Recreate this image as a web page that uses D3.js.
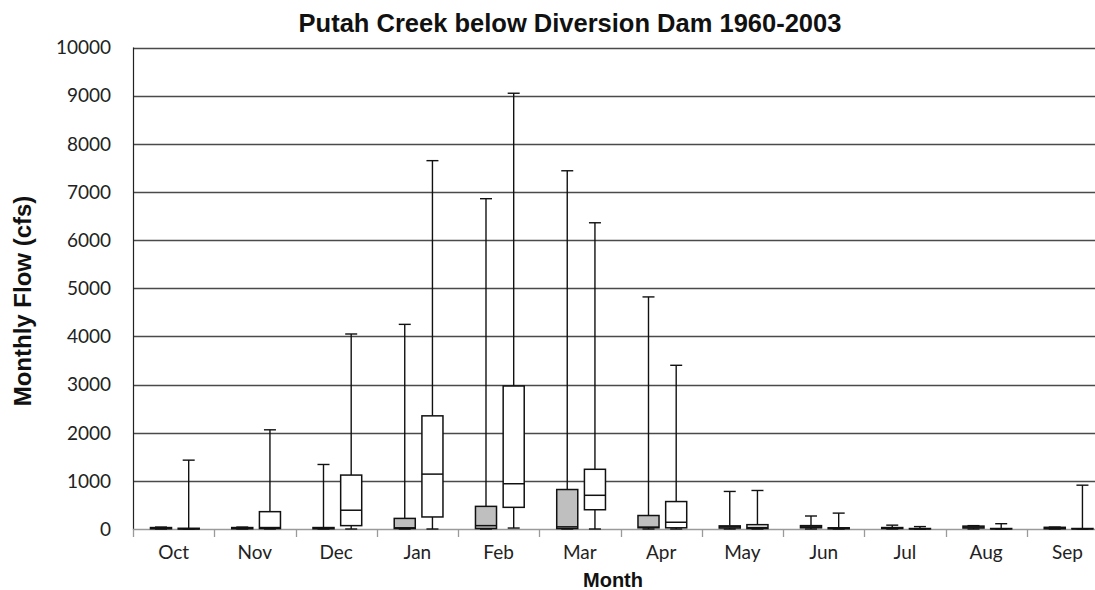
<!DOCTYPE html>
<html lang="en">
<head>
  <meta charset="utf-8">
  <title>Putah Creek below Diversion Dam 1960-2003</title>
  <script src="https://d3js.org/d3.v7.min.js"></script>
  <style>
    body { margin: 0; background: #fff; }
    svg { display: block; }
    .tick-label { font-family: 'Lato', 'Open Sans', sans-serif; font-size: 19px; fill: #222; }
    .title { font-family: 'Liberation Sans', Arial, sans-serif; font-weight: bold; fill: #111; }
  </style>
</head>
<body>
<div id="chart"></div>
<script>
  // months and y ticks
  var months = ["Oct", "Nov", "Dec", "Jan", "Feb", "Mar", "Apr", "May", "Jun", "Jul", "Aug", "Sep"];
  var yTicks = [0, 1000, 2000, 3000, 4000, 5000, 6000, 7000, 8000, 9000, 10000];

  // gray boxes (first series)
  var grayMin = [0, 0, 0, 0, 0, 0, 0, 0, 0, 0, 0, 0];
  var grayQ1  = [5, 5, 5, 10, 10, 10, 25, 20, 25, 10, 20, 5];
  var grayMed = [15, 15, 15, 25, 70, 45, 40, 45, 45, 20, 40, 15];
  var grayQ3  = [30, 30, 30, 220, 470, 820, 280, 65, 70, 30, 60, 35];
  var grayMax = [40, 40, 1340, 4250, 6860, 7440, 4820, 780, 270, 80, 70, 40];

  // white boxes (second series)
  var whiteMin = [0, 0, 0, 0, 20, 0, 0, 0, 0, 0, 0, 0];
  var whiteQ1  = [0, 10, 70, 250, 450, 400, 25, 10, 5, 2, 2, 2];
  var whiteMed = [5, 30, 390, 1140, 940, 700, 140, 30, 15, 5, 5, 5];
  var whiteQ3  = [15, 360, 1120, 2350, 2970, 1240, 570, 90, 25, 10, 10, 10];
  var whiteMax = [1430, 2060, 4050, 7650, 9050, 6360, 3400, 800, 330, 50, 110, 910];

  var W = 1095, H = 590;
  var plotLeft = 133, plotRight = 1108, plotTop = 47.5, plotBottom = 529;

  var svg = d3.select("#chart").append("svg")
      .attr("width", W)
      .attr("height", H);

  var x = d3.scaleBand().domain(months).range([plotLeft, plotRight]).padding(0);
  var bw = x.bandwidth();
  var inner = d3.scaleBand().domain(["gray", "white"])
      .range([0.215 * bw, 0.815 * bw]).paddingInner(0.24).paddingOuter(0);
  var y = d3.scaleLinear().domain([0, 10000]).range([plotBottom, plotTop]);

  // gridlines
  svg.append("g").selectAll("line")
      .data(yTicks.filter(d => d > 0))
      .enter().append("line")
      .attr("x1", plotLeft).attr("x2", plotRight)
      .attr("y1", d => Math.round(y(d)) + 0.5)
      .attr("y2", d => Math.round(y(d)) + 0.5)
      .attr("stroke", "#4a4a4a")
      .attr("stroke-width", 1.3);

  // y tick labels
  svg.append("g").selectAll("text")
      .data(yTicks)
      .enter().append("text")
      .attr("class", "tick-label")
      .attr("x", 111)
      .attr("y", d => y(d))
      .attr("dy", "0.36em")
      .attr("text-anchor", "end")
      .text(d => d);

  // left axis line
  svg.append("line")
      .attr("x1", plotLeft + 0.5).attr("x2", plotLeft + 0.5)
      .attr("y1", plotTop).attr("y2", plotBottom + 1)
      .attr("stroke", "#222").attr("stroke-width", 1.2);

  // bottom axis with ticks at band edges
  svg.append("line")
      .attr("x1", plotLeft).attr("x2", plotRight)
      .attr("y1", plotBottom + 0.5).attr("y2", plotBottom + 0.5)
      .attr("stroke", "#9a9a9a").attr("stroke-width", 1.3);
  svg.append("g").selectAll("line")
      .data(d3.range(months.length + 1))
      .enter().append("line")
      .attr("x1", i => Math.round(plotLeft + i * bw) + 0.5)
      .attr("x2", i => Math.round(plotLeft + i * bw) + 0.5)
      .attr("y1", plotBottom).attr("y2", plotBottom + 8)
      .attr("stroke", "#9a9a9a").attr("stroke-width", 1.3);

  // month labels
  svg.append("g").selectAll("text")
      .data(months)
      .enter().append("text")
      .attr("class", "tick-label")
      .attr("x", d => x(d) + bw / 2)
      .attr("y", 559)
      .attr("text-anchor", "middle")
      .text(d => d);

  // box data
  var boxes = [];
  months.forEach(function(m, i) {
    boxes.push({month: m, s: "gray", min: grayMin[i], q1: grayQ1[i], med: grayMed[i], q3: grayQ3[i], max: grayMax[i]});
    boxes.push({month: m, s: "white", min: whiteMin[i], q1: whiteQ1[i], med: whiteMed[i], q3: whiteQ3[i], max: whiteMax[i]});
  });

  var ib = inner.bandwidth();
  var cap = 12;
  var g = svg.append("g").selectAll("g")
      .data(boxes)
      .enter().append("g")
      .attr("transform", d => "translate(" + (x(d.month) + inner(d.s)) + ",0)");

  // whiskers
  g.append("line")
      .attr("x1", ib / 2).attr("x2", ib / 2)
      .attr("y1", d => y(d.max)).attr("y2", d => y(d.q3))
      .attr("stroke", "#111").attr("stroke-width", 1.4);
  g.append("line")
      .attr("x1", ib / 2).attr("x2", ib / 2)
      .attr("y1", d => y(d.q1)).attr("y2", d => y(d.min))
      .attr("stroke", "#111").attr("stroke-width", 1.4);
  g.append("line")
      .attr("x1", ib / 2 - cap / 2).attr("x2", ib / 2 + cap / 2)
      .attr("y1", d => y(d.max)).attr("y2", d => y(d.max))
      .attr("stroke", "#111").attr("stroke-width", 1.4);
  g.append("line")
      .attr("x1", ib / 2 - cap / 2).attr("x2", ib / 2 + cap / 2)
      .attr("y1", d => y(d.min)).attr("y2", d => y(d.min))
      .attr("stroke", "#111").attr("stroke-width", 1.4);

  // boxes
  g.append("rect")
      .attr("x", 0)
      .attr("width", ib)
      .attr("y", d => y(d.q3))
      .attr("height", d => Math.max(0, y(d.q1) - y(d.q3)))
      .attr("fill", d => d.s === "gray" ? "#bfbfbf" : "#fff")
      .attr("stroke", "#111")
      .attr("stroke-width", 1.5);
  g.append("line")
      .attr("x1", 0).attr("x2", ib)
      .attr("y1", d => y(d.med)).attr("y2", d => y(d.med))
      .attr("stroke", "#111").attr("stroke-width", 1.5);

  // titles
  svg.append("text")
      .attr("class", "title")
      .attr("x", 570).attr("y", 32)
      .attr("text-anchor", "middle")
      .style("font-size", "25.5px")
      .text("Putah Creek below Diversion Dam 1960-2003");

  svg.append("text")
      .attr("class", "title")
      .attr("transform", "translate(31,301) rotate(-90)")
      .attr("text-anchor", "middle")
      .style("font-size", "24px")
      .text("Monthly Flow (cfs)");

  svg.append("text")
      .attr("class", "title")
      .attr("x", 613).attr("y", 587)
      .attr("text-anchor", "middle")
      .style("font-size", "20px")
      .text("Month");
</script>
</body>
</html>
